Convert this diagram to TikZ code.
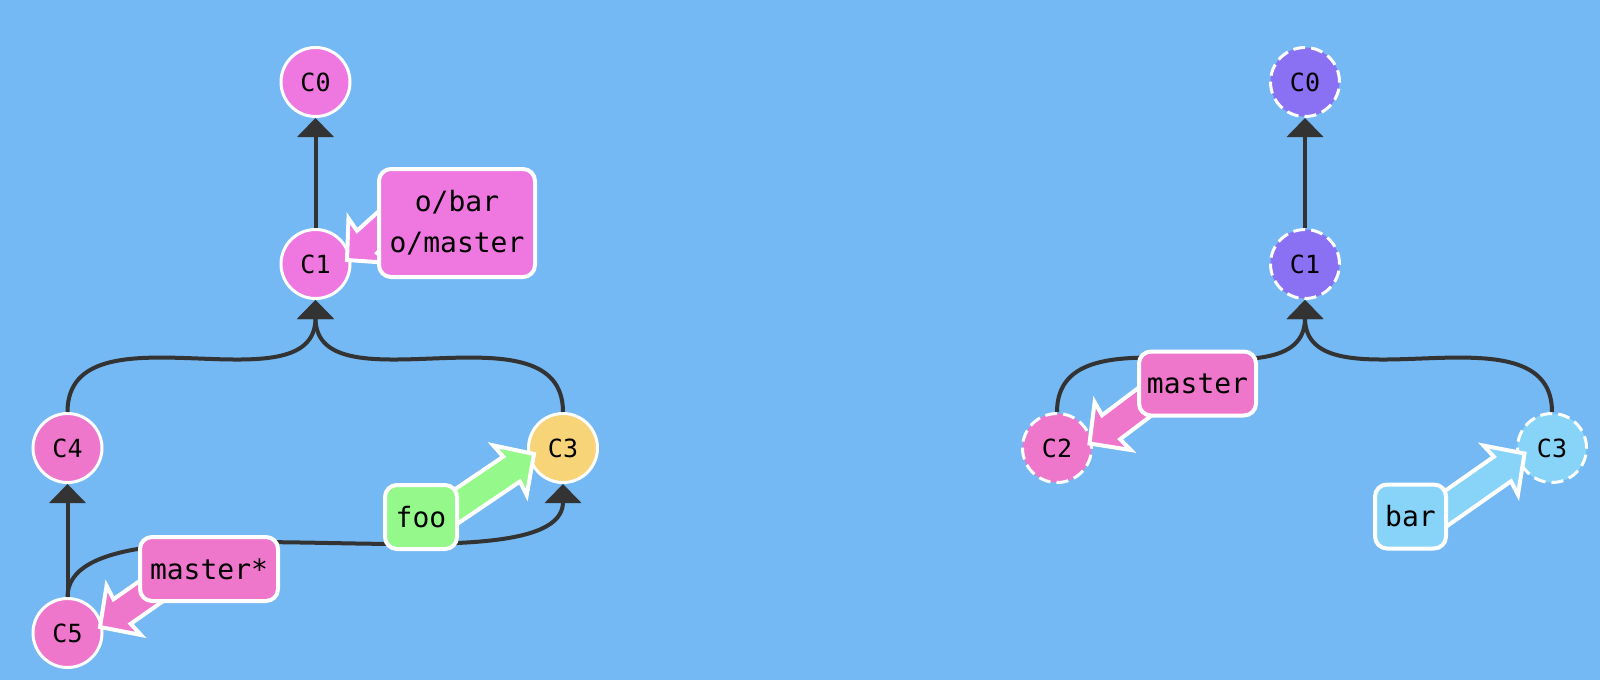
\documentclass[tikz,border=0pt]{standalone}
\usepackage{fontspec}
\setmonofont{DejaVu Sans Mono}
\usetikzlibrary{arrows.meta,calc}
\definecolor{bg}{HTML}{74B8F4}
\definecolor{edgec}{HTML}{333333}
\definecolor{pinkA}{HTML}{EE78DF}
\definecolor{pinkB}{HTML}{EE76CB}
\definecolor{yel}{HTML}{F8D479}
\definecolor{grn}{HTML}{94F98A}
\definecolor{purp}{HTML}{8A70F2}
\definecolor{lblue}{HTML}{88D4F9}
\tikzset{
  commit/.style={circle, draw=white, line width=1.5pt, minimum size=34.5pt, inner sep=0pt,
    font=\ttfamily\fontsize{12.5}{14}\selectfont, text=black},
  ghost/.style={commit, dash pattern=on 6pt off 3pt},
  blabel/.style={rectangle, rounded corners=6pt, draw=white, line width=2pt, minimum height=32pt,
    inner sep=0pt, font=\ttfamily\fontsize{14}{20.5}\selectfont, align=center, text=black},
  parent/.style={draw=edgec, line width=2pt, -{Triangle[width=18pt,length=9.5pt]}},
  bptr/.style={draw=white, line width=2pt, line join=miter, miter limit=10},
}
\newcommand\brptr[4]{%
  \begin{scope}[shift={(#1)}, rotate=#2]
    \path[bptr, fill=#3] (0,0) -- (-29,30) -- (-27,15) -- (-#4,15) -- (-#4,-15) -- (-27,-15) -- (-29,-30) -- cycle;
  \end{scope}}
\begin{document}
\begin{tikzpicture}[x=0.5pt, y=-0.5pt]
\useasboundingbox (0,0) rectangle (1600,680);
\fill[bg] (0,0) rectangle (1600,680);

% left tree
\node[commit, fill=pinkA] (L0) at (315.5,82) {C0};
\node[commit, fill=pinkA] (L1) at (315.5,264) {C1};
\node[commit, fill=yel] (L3) at (563,448) {C3};
\node[commit, fill=pinkB] (L4) at (67.5,448) {C4};
\node[commit, fill=pinkB] (L5) at (67.5,633) {C5};

\draw[parent] (L1) -- (L0);
\draw[parent] (L4.north) .. controls +(0,-112) and +(0,112) .. (L1.south);
\draw[parent] (L3.north) .. controls +(0,-112) and +(0,112) .. (L1.south);
\draw[parent] (L5) -- (L4);
\draw[parent] (L5.north) .. controls +(0,-113) and +(0,113) .. (L3.south);

% right tree
\node[ghost, fill=purp] (R0) at (1305,82) {C0};
\node[ghost, fill=purp] (R1) at (1305,264) {C1};
\node[ghost, fill=pinkB] (R2) at (1057,448) {C2};
\node[ghost, fill=lblue] (R3) at (1552,448) {C3};

\draw[parent] (R1) -- (R0);
\draw[parent] (R2.north) .. controls +(0,-112) and +(0,112) .. (R1.south);
\draw[parent] (R3.north) .. controls +(0,-112) and +(0,112) .. (R1.south);

% pointer tips
\coordinate (tL1) at (347,260);
\coordinate (tL3) at (534,454);
\coordinate (tL5) at (100,627);
\coordinate (tR2) at (1089.5,443.5);
\coordinate (tR3) at (1524.5,453.5);

\brptr{tL1}{222}{pinkA}{80}
\brptr{tL3}{34}{grn}{115}
\brptr{tL5}{215}{pinkB}{110}
\brptr{tR2}{217}{pinkB}{100}
\brptr{tR3}{35}{lblue}{110}

% branch labels
\node[blabel, fill=pinkA, minimum width=78pt, minimum height=54pt] (obar) at (457,223) {o/bar\\o/master};
\node[blabel, fill=grn, minimum width=36pt] (foo) at (421,517) {foo};
\node[blabel, fill=pinkB, minimum width=69pt] (mst) at (209,569) {master*};
\node[blabel, fill=pinkB, minimum width=58.5pt] (rmst) at (1197.5,383.5) {master};
\node[blabel, fill=lblue, minimum width=35.5pt] (bar) at (1410.5,516.5) {bar};
\end{tikzpicture}
\end{document}
